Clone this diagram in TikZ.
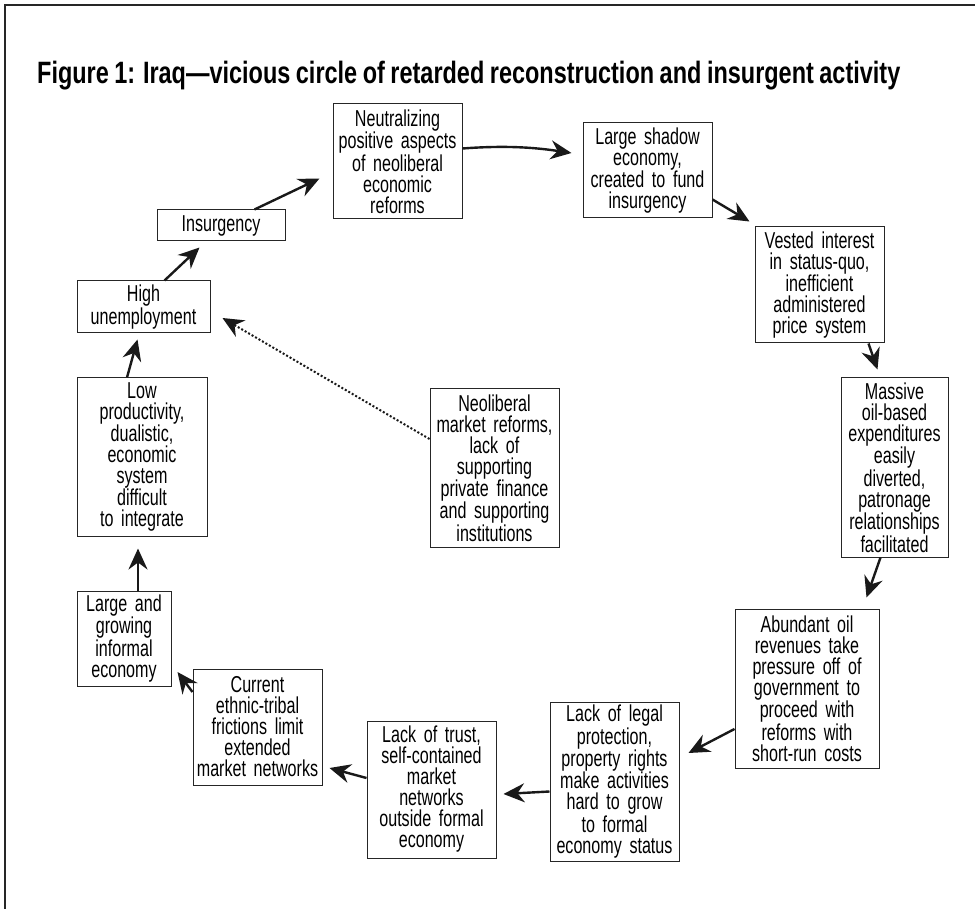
\documentclass[tikz,border=0pt]{standalone}
\usepackage{fontspec}
\setmainfont{Liberation Sans}[FakeStretch=0.70,WordSpace=0.8]
\newfontfamily\titlefont{Liberation Sans}[FakeStretch=0.76,WordSpace=0.85]
\usetikzlibrary{arrows.meta,calc}
\begin{document}
\begin{tikzpicture}[x=1pt,y=-1pt,
  box/.style={draw=black!85, line width=1pt, inner sep=0pt, align=center,
    font=\fontsize{23pt}{21pt}\selectfont},
  arr/.style={line width=2.4pt, draw=black!90, -{Stealth[length=21pt,width=19pt,inset=7pt]}},
  dotarr/.style={line width=2pt, dotted, draw=black!90, -{Stealth[length=21pt,width=19pt,inset=7pt]}}
]
\useasboundingbox (0,0) rectangle (975,909);
\draw[line width=1.5pt, black!85] (5,909) -- (5,5) -- (975,5);

\node[anchor=base west, inner sep=0pt] (title) at (37,84)
  {\resizebox{863pt}{!}{\titlefont\bfseries Figure 1: Iraq—vicious circle of retarded reconstruction and insurgent activity}};

\node[box, minimum width=129pt, minimum height=115pt, text width=125pt] (neut) at (397.5,161.5)
  {Neutralizing\\positive aspects\\of neoliberal\\economic\\reforms};
\node[box, minimum width=129pt, minimum height=95pt, text width=125pt] (large) at (647.5,170.5)
  {Large shadow\\economy,\\created to fund\\insurgency};
\node[box, minimum width=129pt, minimum height=116pt, text width=125pt] (vested) at (819.5,285)
  {Vested interest\\in status-quo,\\inefficient\\administered\\price system};
\node[box, minimum width=107pt, minimum height=179pt, text width=104pt] (massive) at (894.5,467.5)
  {Massive\\oil-based\\expenditures\\easily\\diverted,\\patronage\\relationships\\facilitated};
\node[box, minimum width=144pt, minimum height=159pt, text width=140pt] (abund) at (807,688.5)
  {Abundant oil\\revenues take\\pressure off of\\government to\\proceed with\\reforms with\\short-run costs};
\node[box, minimum width=129pt, minimum height=159pt, text width=125pt] (legal) at (614.5,781.5)
  {Lack of legal\\protection,\\property rights\\make activities\\hard to grow\\to formal\\economy status};
\node[box, minimum width=129pt, minimum height=137pt, text width=125pt] (trust) at (431.5,789.5)
  {Lack of trust,\\self-contained\\market\\networks\\outside formal\\economy};
\node[box, minimum width=129pt, minimum height=116pt, text width=125pt] (current) at (257.5,727)
  {Current\\ethnic-tribal\\frictions limit\\extended\\market networks};
\node[box, minimum width=94pt, minimum height=95pt, text width=90pt] (informal) at (124,638.5)
  {Large and\\growing\\informal\\economy};
\node[box, minimum width=130pt, minimum height=158pt, text width=126pt] (low) at (142,457)
  {Low\\productivity,\\dualistic,\\economic\\system\\difficult\\to integrate};
\node[box, minimum width=133pt, minimum height=52pt, text width=129pt] (high) at (143.5,307)
  {High\\unemployment};
\node[box, minimum width=128pt, minimum height=31pt, text width=124pt] (ins) at (221,225.5)
  {Insurgency};
\node[box, minimum width=129pt, minimum height=158pt, text width=125pt] (neolib) at (494.5,468)
  {Neoliberal\\market reforms,\\lack of\\supporting\\private finance\\and supporting\\institutions};

\draw[arr] ($(high.north west)+(88,0)$) -- ($(ins.south west)+(43,6)$);
\draw[arr] ($(ins.north west)+(98,0)$) -- ($(neut.west)+(-13,17)$);
\draw[arr] ($(neut.east)+(0,-13)$) .. controls +(40,-3) and +(-40,-6) .. ($(large.west)+(-11,-17.5)$);
\draw[arr] ($(large.south east)+(0,-19)$) -- ($(vested.north west)+(-5,-5)$);
\draw[arr] ($(vested.south east)+(-16,0)$) -- ($(massive.north west)+(37,-8)$);
\draw[arr] ($(massive.south)+(-14,0)$) -- ($(abund.north east)+(-13,-11)$);
\draw[arr] ($(abund.west)+(0,40.5)$) -- ($(legal.east)+(9,-28.5)$);
\draw[arr] ($(legal.west)+(0,10)$) -- ($(trust.east)+(7,4.5)$);
\draw[arr] ($(trust.west)+(0,-11.5)$) -- ($(current.east)+(7,41)$);
\draw[arr] ($(current.west)+(0,-35)$) -- ($(informal.east)+(6,33.5)$);
\draw[arr] ($(informal.north)+(14,0)$) -- ($(low.south)+(-4,12)$);
\draw[arr] ($(low.north)+(-15,0)$) -- ($(high.south)+(-6,6)$);
\draw[dotarr] ($(neolib.west)+(0,-29)$) -- ($(high.east)+(12,11)$);
\end{tikzpicture}
\end{document}
